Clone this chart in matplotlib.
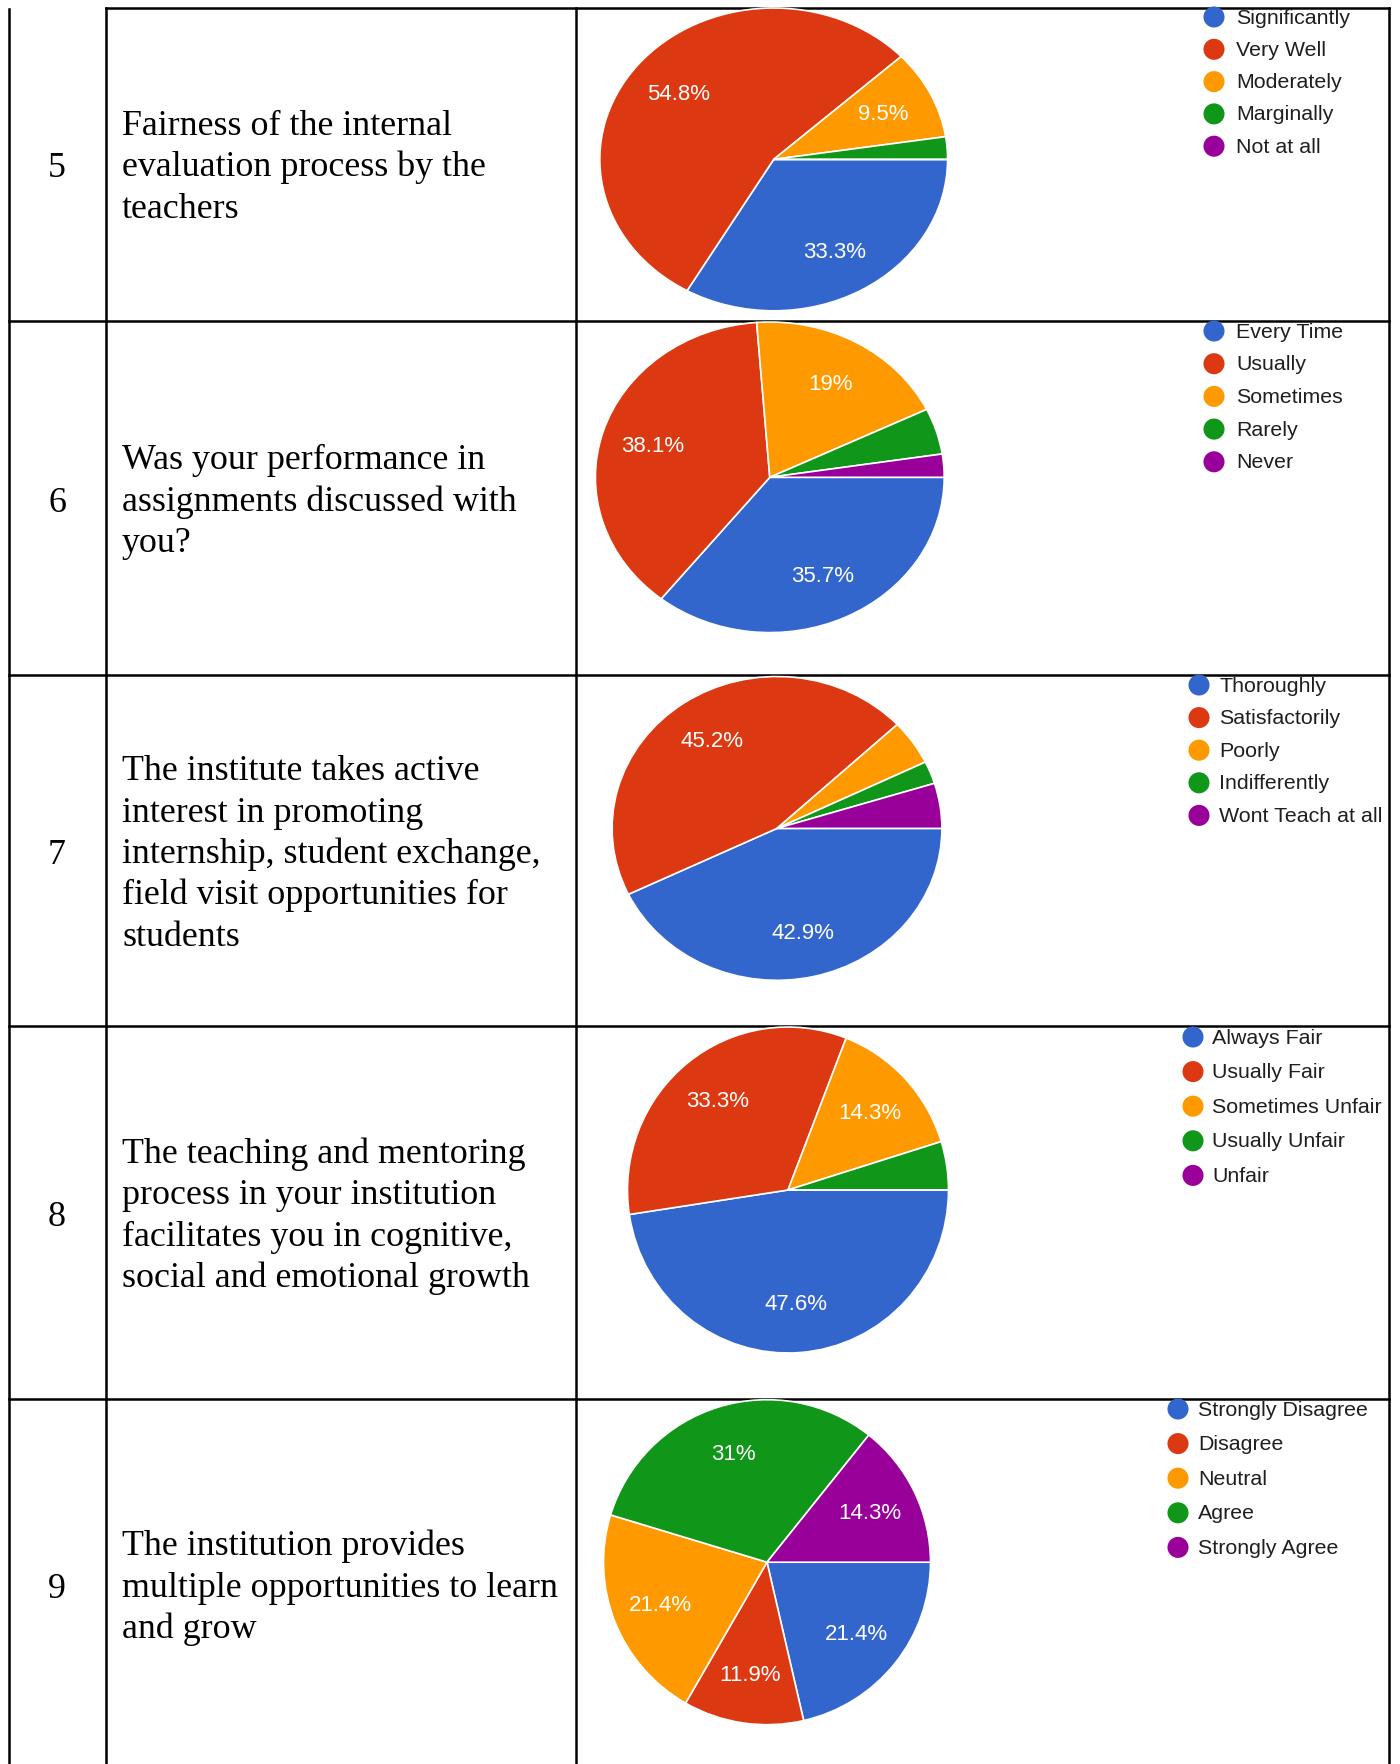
import matplotlib.pyplot as plt

W, H = 1400, 1765

row_numbers = ["5", "6", "7", "8", "9"]

questions = [
    ["Fairness of the internal", "evaluation process by the", "teachers"],
    ["Was your performance in", "assignments discussed with", "you?"],
    ["The institute takes active", "interest in promoting",
     "internship, student exchange,", "field visit opportunities for", "students"],
    ["The teaching and mentoring", "process in your institution",
     "facilitates you in cognitive,", "social and emotional growth"],
    ["The institution provides", "multiple opportunities to learn", "and grow"],
]

legend_q5 = ["Significantly", "Very Well", "Moderately", "Marginally", "Not at all"]
share_q5 = [33.3, 54.8, 9.5, 2.4, 0]

legend_q6 = ["Every Time", "Usually", "Sometimes", "Rarely", "Never"]
share_q6 = [35.7, 38.1, 19, 4.8, 2.4]

legend_q7 = ["Thoroughly", "Satisfactorily", "Poorly", "Indifferently", "Wont Teach at all"]
share_q7 = [42.9, 45.2, 4.8, 2.4, 4.8]

legend_q8 = ["Always Fair", "Usually Fair", "Sometimes Unfair", "Usually Unfair", "Unfair"]
share_q8 = [47.6, 33.3, 14.3, 4.8, 0]

legend_q9 = ["Strongly Disagree", "Disagree", "Neutral", "Agree", "Strongly Agree"]
share_q9 = [21.4, 11.9, 21.4, 31, 14.3]

slice_colors = ["#3366cc", "#dc3912", "#ff9900", "#109618", "#990099"]

all_legends = [legend_q5, legend_q6, legend_q7, legend_q8, legend_q9]
all_shares = [share_q5, share_q6, share_q7, share_q8, share_q9]

# layout in pixels, measured from the top left corner
col_x = [9, 106, 576, 1389]
row_y = [9, 322, 676, 1027, 1400]
text_mid = [165.4, 499.5, 852, 1214, 1585.7]
line_step = 41.5
# pie centre x, centre y, half width, half height
pie_box = [
    (773.7, 160.4, 173.9, 151.4),
    (769.8, 478.3, 174.4, 155.3),
    (777.0, 829.4, 164.9, 151.9),
    (788.0, 1191.0, 160.5, 163.0),
    (767.0, 1563.2, 163.5, 162.5),
]
# legend dot x, first row y, row step, gap to text
legend_pos = [
    (1214, 18, 32.3, 22),
    (1214, 332, 32.7, 22),
    (1199, 686, 32.6, 20),
    (1193, 1038, 34.6, 19),
    (1178, 1410, 34.6, 20),
]

fig = plt.figure(figsize=(W / 100, H / 100), dpi=100)
ax = fig.add_axes([0, 0, 1, 1])
ax.set_xlim(0, W)
ax.set_ylim(H, 0)
ax.axis("off")

lw = 1.8
# table grid
ax.plot([col_x[0], col_x[0]], [10, H], color="black", lw=lw)
for x in col_x[1:]:
    ax.plot([x, x], [row_y[0], H], color="black", lw=lw)
ax.plot([col_x[1], col_x[-1]], [row_y[0], row_y[0]], color="black", lw=lw)
for y in row_y[1:]:
    ax.plot([col_x[0], col_x[-1]], [y, y], color="black", lw=lw)

serif = "Liberation Serif"
sans = "Liberation Sans"

for r in range(5):
    mid = text_mid[r]
    ax.text(57, mid + 12, row_numbers[r], fontsize=25.8, family=serif,
            ha="center", va="baseline", color="black")
    lines = questions[r]
    n = len(lines)
    for i, line in enumerate(lines):
        y = mid + 11 + (i - (n - 1) / 2) * line_step
        ax.text(122, y, line, fontsize=25.8, family=serif,
                ha="left", va="baseline", color="black")

    # legend
    dx, dy, step, gap = legend_pos[r]
    for i, lab in enumerate(all_legends[r]):
        yy = dy + i * step
        ax.scatter([dx], [yy], s=230, color=slice_colors[i], zorder=5,
                   edgecolors="none")
        ax.text(dx + gap, yy, lab, fontsize=15.4, family=sans, color="#1f1f1f",
                ha="left", va="center")

    # pie
    cx, cy, rx, ry = pie_box[r]
    pax = fig.add_axes([(cx - rx) / W, 1 - (cy + ry) / H, 2 * rx / W, 2 * ry / H])
    vals = all_shares[r]
    wedges, _, autotexts = pax.pie(
        vals, colors=slice_colors, startangle=0, counterclock=False,
        autopct=lambda p: "", pctdistance=0.7,
        wedgeprops=dict(edgecolor="white", linewidth=1.2),
        textprops=dict(color="white", fontsize=16, family=sans))
    for t, v in zip(autotexts, vals):
        t.set_text(f"{v:g}%" if v >= 5 else "")
    pax.set_aspect("auto")
    pax.set_xlim(-1, 1)
    pax.set_ylim(-1, 1)
    pax.axis("off")

fig.savefig("out.png", dpi=100)
